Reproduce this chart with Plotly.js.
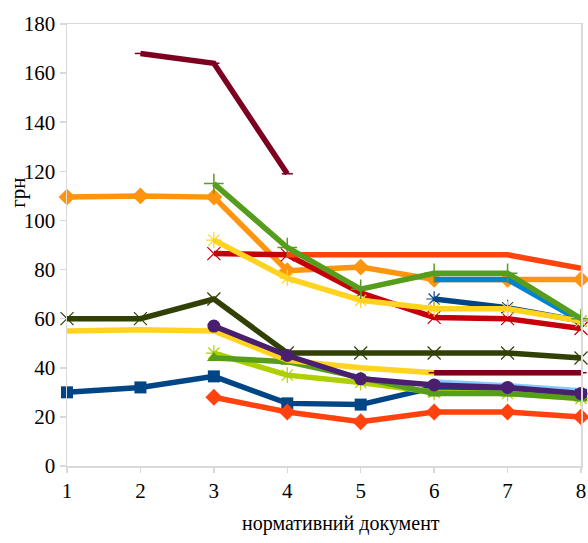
<!DOCTYPE html>
<html>
<head>
<meta charset="utf-8">
<script src="https://cdn.plot.ly/plotly-3.0.1.min.js"></script>
<style>html,body{margin:0;padding:0;background:#fff}#chart{width:588px;height:543px}</style>
</head>
<body>
<div id="chart"></div>
<script>
var xValues = [1, 2, 3, 4, 5, 6, 7, 8];
var yTicks = [0, 20, 40, 60, 80, 100, 120, 140, 160, 180];
var xTitle = "нормативний документ";
var yTitle = "грн";

var lightBlueLow   = [null, null, null, null, null, 34.5, 33, 31];
var darkBlueSquare = [30, 32, 36.5, 25.5, 25, 32, 31, 29];
var orangeRedLow   = [null, null, 28, 22, 18, 22, 22, 20];
var limeStar       = [null, null, 46, 37, 34, 30, 29.5, 27.5];
var greenTriangle  = [null, null, 44, 42.5, 36, 29.5, 29.5, 27.5];
var yellowPlain    = [55, 55.5, 55, 43, 40, 38, 38, 38];
var maroonDash     = [null, 168, 164, 119, null, 38, 38, 38];
var oliveX         = [60, 60, 68, 46, 46, 46, 46, 44];
var purpleCircle   = [null, null, 57, 45, 35.5, 33, 32, 29.5];
var orangeDiamond  = [109.5, 110, 109.5, 79.5, 81, 76, 76, 76];
var redX           = [null, null, 86.5, 86, 70.5, 60.5, 60, 56];
var orangeRedTop   = [null, null, null, 86, 86, 86, 86, 80.5];
var blueLine       = [null, null, null, null, null, 76, 76, 59];
var darkBlueStar   = [null, null, null, null, null, 68, 64.5, 59];
var yellowStar     = [null, null, 92, 76.5, 67.5, 64, 64, 59];
var greenPlus      = [null, null, 115, 89, 72, 78.5, 78.5, 60];

function tr(y, color, marker, width) {
  return {
    x: xValues, y: y, type: 'scatter', mode: marker ? 'lines+markers' : 'lines',
    line: {color: color, width: width || 5.5},
    marker: marker || {},
    cliponaxis: false, connectgaps: false, hoverinfo: 'skip'
  };
}

var data = [
  tr(lightBlueLow, '#83CAFF', null, 4),
  tr(darkBlueSquare, '#004586', {symbol: 'square', size: 12, color: '#004586'}),
  tr(orangeRedLow, '#FF420E', {symbol: 'diamond', size: 13, color: '#FF420E'}),
  tr(limeStar, '#AECF00', {symbol: 'asterisk-open', size: 13, line: {color: '#D4E580', width: 1.2}}),
  tr(greenTriangle, '#579D1C', {symbol: 'triangle-up', size: 12, color: '#579D1C'}),
  tr(yellowPlain, '#FFD320', null),
  tr(maroonDash, '#7E0021', {symbol: 'line-ew-open', size: 8, line: {color: '#9E4060', width: 1.5}}),
  tr(oliveX, '#314004', {symbol: 'x-thin-open', size: 13, line: {color: '#8E9478', width: 1.2}}),
  tr(purpleCircle, '#4B1F6F', {symbol: 'circle', size: 13, color: '#4B1F6F'}),
  tr(orangeDiamond, '#FF950E', {symbol: 'diamond', size: 13, color: '#FF950E'}),
  tr(redX, '#C5000B', {symbol: 'x-thin-open', size: 13, line: {color: '#E08A8E', width: 1.2}}),
  tr(orangeRedTop, '#FF420E', null),
  tr(blueLine, '#0084D1', null),
  tr(darkBlueStar, '#004586', {symbol: 'asterisk-open', size: 13, line: {color: '#4A76A6', width: 1.2}}),
  tr(yellowStar, '#FFD320', {symbol: 'asterisk-open', size: 13, line: {color: '#FFE680', width: 1.2}}),
  tr(greenPlus, '#579D1C', {symbol: 'cross-thin-open', size: 14, line: {color: '#6AA830', width: 1.5}})
];

var layout = {
  width: 588, height: 543,
  margin: {l: 67, r: 7, t: 24, b: 77, pad: 0},
  paper_bgcolor: '#ffffff', plot_bgcolor: '#ffffff',
  showlegend: false,
  font: {family: 'Liberation Serif', size: 20, color: '#000000'},
  xaxis: {
    range: [1, 8], tickvals: xValues,
    showgrid: false, zeroline: false,
    showline: true, linecolor: '#D9D9D9', linewidth: 1.5, mirror: true,
    ticks: 'outside', ticklen: 5, tickcolor: '#D9D9D9', tickwidth: 1.5,
    tickfont: {family: 'Liberation Serif', size: 21, color: '#000000'}
  },
  yaxis: {
    range: [0, 180], tickvals: yTicks,
    showgrid: false, zeroline: false,
    showline: true, linecolor: '#D9D9D9', linewidth: 1.5, mirror: true,
    ticks: 'outside', ticklen: 6, tickcolor: '#D9D9D9', tickwidth: 1.5,
    tickfont: {family: 'Liberation Serif', size: 21, color: '#000000'}
  },
  annotations: [
    {text: xTitle, xref: 'paper', yref: 'paper', x: 0.533, y: -0.131,
     xanchor: 'center', yanchor: 'middle', showarrow: false,
     font: {family: 'Liberation Serif', size: 20, color: '#000000'}},
    {text: yTitle, xref: 'paper', yref: 'paper', x: -0.0953, y: 0.618,
     xanchor: 'center', yanchor: 'middle', showarrow: false, textangle: -90,
     font: {family: 'Liberation Serif', size: 21, color: '#000000'}}
  ]
};

Plotly.newPlot('chart', data, layout, {displayModeBar: false, staticPlot: true});
</script>
</body>
</html>
